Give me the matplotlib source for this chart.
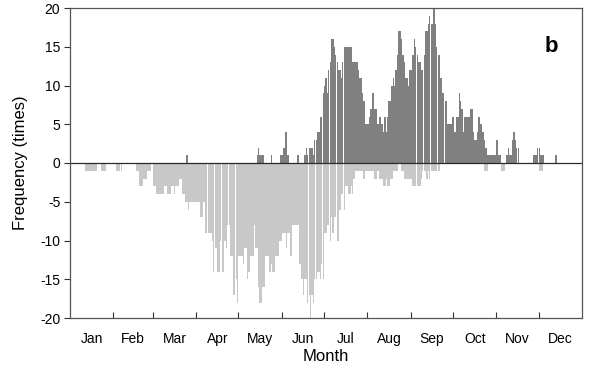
import numpy as np
import matplotlib
matplotlib.use("Agg")
import matplotlib.pyplot as plt

plt.rcParams['font.family'] = ['Liberation Sans', 'DejaVu Sans']

months = ["Jan", "Feb", "Mar", "Apr", "May", "Jun", "Jul", "Aug", "Sep", "Oct", "Nov", "Dec"]
month_days = [31, 28, 31, 30, 31, 30, 31, 31, 30, 31, 30, 31]
y_ticks = [-20, -15, -10, -5, 0, 5, 10, 15, 20]

# daily negative frequencies (light grey), one row per month
neg_jan = [0,0,0,0,0,0,0,0,0,0,0,-1,-1,-1,-1,-1,-1,-1,-1,0,0,0,-1,-1,-1,-1,0,0,0,0,0]
neg_feb = [0,0,-1,-1,-1,-1,0,0,0,0,0,0,0,0,0,0,-1,-1,-3,-3,-3,-2,-2,-2,-1,-1,-1,0]
neg_mar = [-3,-3,-4,-4,-4,-4,-4,-4,-3,-3,-4,-4,-4,-3,-3,-4,-3,-3,-3,-2,-2,-4,-4,-5,-5,-6,-5,-5,-5,-5,-5]
neg_apr = [-5,-5,-5,-7,-7,-5,-9,-9,-9,-9,-9,-10,-14,-11,-11,-14,-14,-10,-14,-14,-10,-11,-8,-8,-12,-12,-17,-17,-15,-18]
neg_may = [-12,-12,-12,-13,-11,-11,-15,-14,-12,-12,-12,-8,-11,-11,-16,-18,-18,-16,-16,-12,-12,-12,-14,-13,-14,-14,-12,-12,-12,-10,-10]
neg_jun = [-9,-9,-9,-11,-9,-9,-12,-8,-8,-8,-8,-8,-13,-13,-15,-17,-15,-15,-18,-17,-20,-17,-18,-15,-15,-14,-14,-15,-13,-15]
neg_jul = [-9,-9,-8,-8,-10,-7,-9,-7,-7,-10,-10,-6,-4,-4,-6,-3,-3,-4,-4,-3,-4,-2,-1,-1,-1,-1,-1,-1,-2,-1,-1]
neg_aug = [-1,-1,-1,-1,-1,-2,-2,-1,-2,-2,-2,-3,-3,-2,-3,-3,-2,-2,-1,-1,-1,-1,0,0,-1,-1,-2,-2,-2,-2,-2]
neg_sep = [-2,-3,-3,-3,-3,-3,-3,-2,-1,-1,-1,-2,-1,-2,-1,-1,-1,-1,-1,-1,-1,0,0,0,0,0,0,0,0,0]
neg_oct = [0,0,0,0,0,0,0,0,0,0,0,0,0,0,0,0,0,0,0,0,0,0,-1,-1,-1,0,0,0,0,0,0]
neg_nov = [0,0,0,-1,-1,-1,0,0,0,0,0,0,0,0,0,0,0,0,0,0,0,0,0,0,0,0,0,0,0,0]
neg_dec = [-1,-1,-1,0,0,0,0,0,0,0,0,0,0,0,0,0,0,0,0,0,0,0,0,0,0,0,0,0,0,0,0]

# daily positive frequencies (dark grey), one row per month
pos_jan = [0]*31
pos_feb = [0]*28
pos_mar = [0,0,0,0,0,0,0,0,0,0,0,0,0,0,0,0,0,0,0,0,0,0,0,0,1,0,0,0,0,0,0]
pos_apr = [0]*30
pos_may = [0,0,0,0,0,0,0,0,0,0,0,0,0,1,2,1,1,1,0,0,0,0,0,1,0,0,0,0,0,0,1]
pos_jun = [1,2,4,4,1,0,0,0,0,0,0,1,0,0,0,0,1,2,1,2,2,2,1,3,3,4,4,6,6,9]
pos_jul = [10,11,9,12,13,16,16,15,14,13,12,12,11,13,15,15,15,15,15,15,13,13,13,13,12,11,11,9,8,5,5]
pos_aug = [5,6,7,9,9,7,7,5,6,6,5,4,6,4,6,8,8,10,11,10,12,14,17,17,16,14,13,11,11,10,12]
pos_sep = [12,14,16,15,14,13,13,12,12,14,17,17,18,19,18,18,20,18,15,14,14,11,9,9,8,8,5,5,5,6]
pos_oct = [6,4,6,6,9,8,7,4,6,6,6,6,7,7,4,3,3,4,6,5,5,4,3,2,1,1,1,1,1,1,1]
pos_nov = [3,1,1,0,0,0,0,1,2,1,1,3,4,3,2,2,0,0,0,0,0,0,0,0,0,0,1,1,1,2]
pos_dec = [2,1,1,1,0,0,0,0,0,0,0,0,1,0,0,0,0,0,0,0,0,0,0,0,0,0,0,0,0,0,0]

neg = np.array(neg_jan + neg_feb + neg_mar + neg_apr + neg_may + neg_jun +
               neg_jul + neg_aug + neg_sep + neg_oct + neg_nov + neg_dec)
pos = np.array(pos_jan + pos_feb + pos_mar + pos_apr + pos_may + pos_jun +
               pos_jul + pos_aug + pos_sep + pos_oct + pos_nov + pos_dec)
days = np.arange(len(neg)) + 0.5

fig = plt.figure(figsize=(5.99, 3.69), dpi=100)
ax = fig.add_axes([70/599, 1-318/369, 512/599, 310/369])

ax.bar(days, pos, width=0.95, color="#808080", linewidth=0)
ax.bar(days, neg, width=0.95, color="#c8c8c8", linewidth=0)
ax.axhline(0, color="#2a2a2a", linewidth=0.9)

ax.set_xlim(0, 365)
ax.set_ylim(-20, 20)
ax.set_yticks(y_ticks)
ax.set_yticklabels([str(v) for v in y_ticks], fontsize=10)

bounds = np.cumsum(month_days)[:-1]
centers = np.cumsum(month_days) - np.array(month_days) / 2
ax.set_xticks(bounds)
ax.set_xticklabels([])
ax.set_xticks(centers, minor=True)
ax.set_xticklabels(months, minor=True, fontsize=10)
ax.tick_params(axis='x', which='major', direction='in', length=4, width=0.8, color="#333333")
ax.tick_params(axis='x', which='minor', length=0, pad=10)
ax.tick_params(axis='y', direction='out', length=4, width=0.8, color="#333333", pad=3)

for s in ax.spines.values():
    s.set_color("#555555")
    s.set_linewidth(0.9)

ax.set_xlabel("Month", fontsize=12, labelpad=2)
ax.set_ylabel("Frequency (times)", fontsize=12, labelpad=9)
ax.text(0.94, 0.875, "b", transform=ax.transAxes, fontsize=16, fontweight="bold",
        ha="center", va="center")

fig.savefig("out.png", dpi=100)
